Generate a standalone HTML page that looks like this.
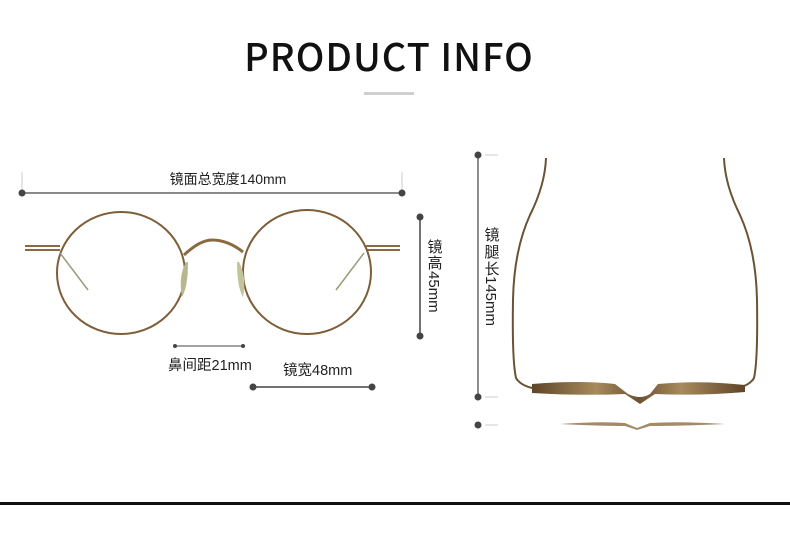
<!DOCTYPE html>
<html><head><meta charset="utf-8"><style>
html,body{margin:0;padding:0;background:#fff;width:790px;height:536px;overflow:hidden}
svg{display:block}
text{font-family:"Liberation Sans","Noto Sans CJK SC",sans-serif}
</style></head><body>
<svg width="790" height="536" viewBox="0 0 790 536" xmlns="http://www.w3.org/2000/svg">
<defs>
<linearGradient id="g" x1="0" x2="1"><stop offset="0" stop-color="#5e4528"/><stop offset=".3" stop-color="#a88a5c"/><stop offset=".5" stop-color="#6b5233"/><stop offset=".7" stop-color="#a88a5c"/><stop offset="1" stop-color="#5e4528"/></linearGradient>
</defs>
<text x="389" y="71" text-anchor="middle" font-size="38" letter-spacing="1" fill="#111" style="font-family:'Noto Sans CJK SC','Liberation Sans',sans-serif;font-weight:500">PRODUCT INFO</text>
<rect x="364" y="92" width="50" height="3" fill="#cfcfcf"/>

<line x1="22" y1="172" x2="22" y2="190" stroke="#ccc" stroke-width="1"/>
<line x1="402" y1="172" x2="402" y2="190" stroke="#ccc" stroke-width="1"/>
<line x1="22" y1="193" x2="402" y2="193" stroke="#444" stroke-width="1.2"/>
<circle cx="22" cy="193" r="3.5" fill="#444"/><circle cx="402" cy="193" r="3.5" fill="#444"/>
<text x="228" y="184" text-anchor="middle" font-size="14" fill="#222">镜面总宽度140mm</text>

<g fill="none" stroke="#8a6a40">
<line x1="25" y1="246" x2="60" y2="246" stroke-width="2"/>
<line x1="25" y1="250" x2="60" y2="250" stroke-width="2"/>
<line x1="366" y1="246" x2="400" y2="246" stroke-width="2"/>
<line x1="366" y1="250" x2="400" y2="250" stroke-width="2"/>
<ellipse cx="121" cy="273" rx="64" ry="61" stroke-width="2" stroke="#7d5e38"/>
<ellipse cx="307" cy="272" rx="64" ry="62" stroke-width="2" stroke="#7d5e38"/>
<path d="M184 255 Q200 240 212 240 Q228 240 243 252" stroke-width="3"/>
<path d="M60 253 L88 290" stroke="#9b9a78" stroke-width="1.5"/>
<path d="M364 253 L336 290" stroke="#9b9a78" stroke-width="1.5"/>
</g>
<path d="M186 262 q-8 15 -4 35 q6 -10 6 -35z" fill="#b8b890"/>
<path d="M239 262 q8 15 4 35 q-6 -10 -6 -35z" fill="#c4c49a"/>

<line x1="420" y1="217" x2="420" y2="336" stroke="#444" stroke-width="1.5"/>
<circle cx="420" cy="217" r="3.5" fill="#444"/><circle cx="420" cy="336" r="3.5" fill="#444"/>
<text x="435" y="252" text-anchor="middle" font-size="15" fill="#222">镜</text>
<text x="435" y="268" text-anchor="middle" font-size="15" fill="#222">高</text>
<text transform="translate(429,271) rotate(90)" font-size="15" fill="#222">45mm</text>

<line x1="175" y1="346" x2="243" y2="346" stroke="#444" stroke-width="1"/>
<circle cx="175" cy="346" r="2" fill="#444"/><circle cx="243" cy="346" r="2" fill="#444"/>
<text x="168" y="370" font-size="14.5" fill="#222">鼻间距21mm</text>

<line x1="253" y1="387" x2="372" y2="387" stroke="#444" stroke-width="1.5"/>
<circle cx="253" cy="387" r="3.5" fill="#444"/><circle cx="372" cy="387" r="3.5" fill="#444"/>
<text x="283" y="375" font-size="14.5" fill="#222">镜宽48mm</text>

<line x1="478" y1="155" x2="478" y2="397" stroke="#444" stroke-width="1.2"/>
<circle cx="478" cy="155" r="3.5" fill="#444"/><circle cx="478" cy="397" r="3.5" fill="#444"/><circle cx="478" cy="425" r="3.5" fill="#444"/>
<line x1="485" y1="155" x2="498" y2="155" stroke="#ccc"/>
<line x1="485" y1="397" x2="498" y2="397" stroke="#ccc"/>
<line x1="485" y1="425" x2="498" y2="425" stroke="#ccc"/>
<text x="492" y="240" text-anchor="middle" font-size="15" fill="#222">镜</text>
<text x="492" y="257" text-anchor="middle" font-size="15" fill="#222">腿</text>
<text x="492" y="274" text-anchor="middle" font-size="15" fill="#222">长</text>
<text transform="translate(486,276) rotate(90)" font-size="15" fill="#222">145mm</text>

<g fill="none" stroke="#6b5233" stroke-width="2">
<path d="M546 158 Q545 185 530 215 Q514 250 513 300 Q512 360 516 378 Q520 385 532 388"/>
<path d="M724 158 Q725 185 740 215 Q756 250 757 300 Q758 360 754 378 Q750 385 738 388"/>
</g>
<path d="M532 384 Q580 380 615 384 L628 394 Q640 400 650 394 L658 384 Q700 380 745 385 L745 392 Q700 396 655 394 L640 404 L625 394 Q580 396 532 393z" fill="url(#g)"/>
<path d="M560 424 Q600 421 625 423 L637 428 L650 423 Q680 421 725 424 Q680 426 650 426 L637 430 L625 426 Q600 426 560 424z" fill="#8c6e45" opacity=".8"/>

<rect x="0" y="502" width="790" height="3" fill="#111"/>
</svg>
</body></html>
